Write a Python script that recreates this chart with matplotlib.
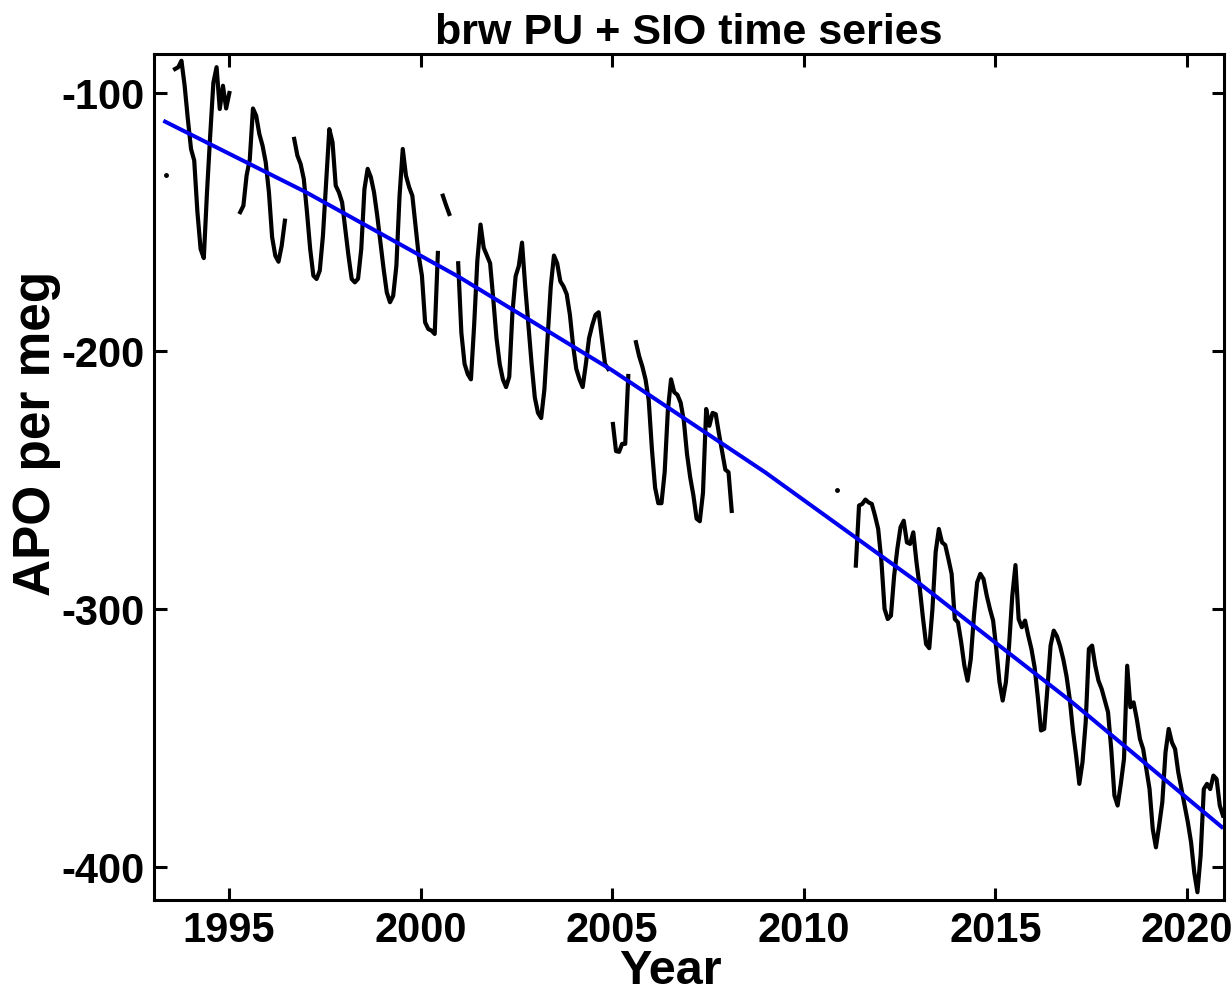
import numpy as np
import matplotlib
matplotlib.use('Agg')
import matplotlib.pyplot as plt

# monthly APO values (per meg), one list per continuous stretch of record
seg_start = [1993.59, 1995.29, 1996.70, 2000.58, 2000.98, 2005.02, 2005.62, 2011.36]
seg_step = [1/12, 1/12, 1/12, 1/12, 1/12, 1/12.5, 1/12, 1/12]
seg_vals = [
    [-90.7, -90.0, -87.5, -97.2, -110.1, -121.7, -126.2, -146.2, -160.5, -164.0,
     -138.5, -116.5, -96.0, -90.0, -106.2, -97.2, -106.0, -100.0],
    [-146.2, -143.7, -132.0, -125.8, -106.0, -108.8, -115.9, -120.4, -126.9, -138.5,
     -155.9, -163.1, -165.4, -159.2, -149.5],
    [-117.8, -124.3, -127.5, -133.3, -146.2, -160.5, -170.8, -172.1, -168.9, -155.3,
     -134.6, -114.0, -119.1, -135.9, -138.5, -142.4, -152.7, -163.1, -172.1, -173.4,
     -172.0, -160.5, -137.2, -129.4, -132.6, -138.5, -147.5, -157.8, -168.2, -177.3,
     -181.1, -178.6, -167.0, -139.8, -121.7, -132.0, -136.5, -139.8, -151.4, -163.1,
     -170.8, -188.9, -191.5, -192.1, -193.4, -162.0],
    [-139.8, -143.5, -146.9],
    [-166, -193, -205, -209, -211, -190, -165, -151, -160, -163,
     -166, -180, -195, -205, -211, -214, -210, -185, -171, -167,
     -158, -175, -190, -205, -218, -224, -226, -215, -195, -175,
     -163, -166, -173, -175, -178, -186, -198, -207, -211, -214,
     -205, -195, -190, -186, -185, -195, -205, -207],
    [-228.3, -238.8, -239.1, -236.0, -236.0, -209.7],
    [-196.6, -202, -206, -211, -219, -238, -253, -259, -259, -247,
     -223, -211, -216, -217, -220, -227, -240, -249, -256, -265,
     -266, -255, -222.5, -229, -224, -224.5, -232, -239, -246, -247, -262],
    [-283.2, -259.9, -259.3, -257.6, -258.7, -259.3, -263.8, -269.0, -281.3, -300.0,
     -303.9, -302.6, -287.1, -276.7, -268.3, -265.8, -274.2, -274.8, -270.3, -281.9,
     -291.6, -303.2, -313.6, -315.2, -300.0, -278.0, -269.0, -274.2, -275.2, -280.6,
     -286.4, -303.9, -305.2, -312.9, -322.0, -327.8, -319.4, -302.6, -289.7, -286.4,
     -288.4, -294.8, -300.0, -304.5, -315.5, -328.4,
     -335.5, -328.4, -314.2, -295.0, -283.0, -303.9, -307.1, -304.5, -310.3, -315.5,
     -322.6, -334.2, -347.1, -346.5, -331.0, -314.2, -308.4, -310.6, -314.5, -319.6,
     -326.1, -334.9, -347.1, -356.8, -367.8, -359.4, -343.9, -315.5, -314.2, -322.0,
     -327.8, -331.0, -335.5, -340.0, -354.3, -372.3, -376.2, -367.8, -358.1, -322.0,
     -338.1, -336.2, -342.6, -350.4, -354.3, -362.0, -369.8, -385.3, -392.4, -384.0,
     -374.9, -355.6, -346.5, -351.7, -354.3, -363.3, -369.8, -376.2, -382.7, -390.4,
     -402.1, -409.8, -395.6, -369.8, -367.8, -369.8, -364.6, -365.9, -376.2, -380.1],
]

# single isolated samples
lone_years = [1993.36, 2010.87]
lone_vals = [-131.8, -253.8]

# fitted trend curve, read at a few points along it
trend_years = [1993.33, 1997.0, 2001.0, 2005.0, 2009.0, 2013.0, 2017.0, 2020.91]
trend_vals = [-111.1, -138.4, -171.3, -207.5, -247.1, -289.9, -336.1, -384.5]

xticks = [1995, 2000, 2005, 2010, 2015, 2020]
yticks = [-400, -300, -200, -100]

# join the stretches with NaN gaps so the line breaks
years, apo = [], []
for start, step, vals in zip(seg_start, seg_step, seg_vals):
    years += [start + k * step for k in range(len(vals))] + [np.nan]
    apo += list(vals) + [np.nan]

plt.rcParams['font.family'] = ['Liberation Sans', 'DejaVu Sans']
plt.rcParams['font.weight'] = 'bold'
plt.rcParams['axes.unicode_minus'] = False

fig = plt.figure(figsize=(12.32, 9.95), dpi=100)
ax = fig.add_axes([0.125, 0.0945, 0.8685, 0.8502])

ax.plot(years, apo, color='black', linewidth=3.0)
ax.plot(lone_years, lone_vals, 'o', color='black', markersize=2.5)
ax.plot(trend_years, trend_vals, color='#0000ee', linewidth=2.9)

ax.set_xlim(1993.04, 2020.97)
ax.set_ylim(-412.8, -84.9)
ax.set_xticks(xticks)
ax.set_yticks(yticks)
ax.tick_params(direction='in', length=9, width=2.2, top=True, right=True,
               labelsize=30, pad=7)
for lab in ax.get_xticklabels() + ax.get_yticklabels():
    lab.set_fontweight('bold')
for s in ax.spines.values():
    s.set_linewidth(2.2)

ax.set_xlabel('Year', fontsize=35, fontweight='bold')
ax.set_ylabel('APO per meg', fontsize=37, fontweight='bold')
ax.xaxis.set_label_coords(0.483, -0.057)
ax.yaxis.set_label_coords(-0.087, 0.553)
ax.set_title('brw PU + SIO time series', fontsize=31, fontweight='bold', pad=8)

fig.savefig('out.png', dpi=100)
